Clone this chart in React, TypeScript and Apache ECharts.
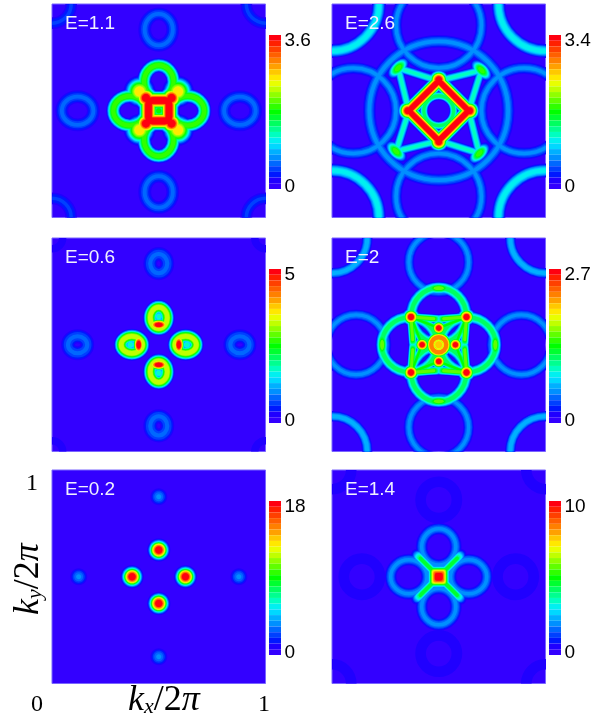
import React, { useEffect, useRef } from "react";
import * as echarts from "echarts";

// colour bar, bottom to top
const barColors = ["#3300ff","#2000ff","#0018ff","#0040ff","#0068ff","#0090ff","#00b0ff","#00d8ff","#00f0f0","#00ffc0","#00ff90","#00ff60","#00ff30","#00ff00","#30ff00","#60ff00","#90ff00","#c0ff00","#e8ff00","#ffe800","#ffc800","#ffa000","#ff8000","#ff6000","#ff4000","#ff2000","#ff0010"];

// rings: kx, ky, radius x, radius y, band width, peak
// blobs: kx, ky, radius x, radius y, angle, peak
// boxes: kx, ky, half side, corner, angle, band width (0 = solid), peak
// ridges: kx1, ky1, kx2, ky2, band width, peak
const ringsE11 = [[.5,.88,.066,.074,.06,.55],[0,1,.09,.09,.055,.45],[.5,.636,.069,.077,.068,1.95]];
const blobsE11 = [[.41,.59,.075,.075,0,2.6],[.44,.56,.06,.06,0,3.6],[.5,.5,.04,.04,0,1.75]];
const boxesE11 = [[.5,.5,.048,.02,0,.1,3.6]];
const ridgesE11: number[][] = [];

const ringsE26 = [[0,1,.22,.22,.065,1.1],[.5,.5,.325,.325,.06,.65],[.5,.9,.2,.2,.055,.65],[.5,.5,.07,.07,.042,1.5]];
const blobsE26 = [[.31,.7,.065,.036,45,1.85],[.5,.645,.05,.05,0,3.4]];
const boxesE26 = [[.5,.5,.099,.015,45,.078,3.3]];
const ridgesE26 = [[.49,.643,.31,.7,.045,1.2],[.357,.51,.31,.7,.045,1.2]];

const ringsE06 = [[.5,.88,.04,.045,.065,.83],[0,1,.05,.05,.035,.33],[.5,.626,.04,.05,.07,3.3]];
const blobsE06 = [[.5,.632,.03,.03,0,1.8],[.5,.594,.06,.032,0,5]];
const boxesE06: number[][] = [];
const ridgesE06: number[][] = [];

const ringsE20 = [[0,1,.165,.165,.05,.7],[.5,.887,.14,.14,.05,.55],[.5,.637,.128,.13,.06,1.15],[.5,.5,.035,.035,.06,2.3]];
const blobsE20 = [[.5,.5,.055,.055,0,2.0],[.37,.63,.045,.045,0,2.6],[.5,.578,.04,.04,0,2.6],[.5,.5,.02,.02,0,1.95],[.5,.765,.08,.03,0,1.5]];
const boxesE20 = [[.5,.5,.06,.01,45,0,1.9]];
const ridgesE20 = [[.37,.63,.5,.578,.03,1.4],[.37,.63,.422,.5,.03,1.4],[.37,.63,.5,.62,.045,1.5],[.37,.63,.38,.5,.045,1.5]];

const ringsE02: number[][] = [];
const blobsE02 = [[.5,.625,.055,.055,0,18],[.5,.875,.04,.04,0,3.6]];
const boxesE02: number[][] = [];
const ridgesE02: number[][] = [];

const ringsE14 = [[.5,.86,.085,.085,.05,.5],[0,1,.09,.09,.05,.5],[.5,.64,.08,.085,.055,2.0]];
const blobsE14: number[][] = [];
const boxesE14 = [[.5,.5,.06,.01,0,0,10]];
const ridgesE14 = [[.5,.5,.395,.605,.05,4.5]];

const energies = ["E=1.1","E=2.6","E=0.6","E=2","E=0.2","E=1.4"];
const scaleMax = [3.6,3.4,5,2.7,18,10];
const scaleMaxLabels = ["3.6","3.4","5","2.7","18","10"];
const ringSets = [ringsE11,ringsE26,ringsE06,ringsE20,ringsE02,ringsE14];
const blobSets = [blobsE11,blobsE26,blobsE06,blobsE20,blobsE02,blobsE14];
const boxSets = [boxesE11,boxesE26,boxesE06,boxesE20,boxesE02,boxesE14];
const ridgeSets = [ridgesE11,ridgesE26,ridgesE06,ridgesE20,ridgesE02,ridgesE14];

const SERIF = "'Liberation Serif','DejaVu Serif',serif";
const SANS = "'Liberation Sans',Arial,sans-serif";
const panelLeft = [52, 332];
const panelTop = [4, 238, 470];
const panelSize = 213.5;

// kind, a, b, c, d, angle, band, peak
type F = number[];
function turn(x: number, y: number, n: number) {
  let dx = x - .5, dy = y - .5;
  for (let i = 0; i < n; i++) { const t = dx; dx = -dy; dy = t; }
  return [.5 + dx, .5 + dy];
}
function fourfold(i: number): F[] {
  const out: F[] = [];
  for (let n = 0; n < 4; n++) {
    for (const r of ringSets[i]) {
      if (n > 0 && r[0] === .5 && r[1] === .5) continue;
      const [x, y] = turn(r[0], r[1], n);
      out.push([0, x, y, r[2], r[3], n * 90, r[4], r[5]]);
    }
    for (const r of blobSets[i]) {
      if (n > 0 && r[0] === .5 && r[1] === .5) continue;
      const [x, y] = turn(r[0], r[1], n);
      out.push([1, x, y, r[2], r[3], r[4] + n * 90, 0, r[5]]);
    }
    for (const r of boxSets[i]) {
      if (n > 0) continue;
      out.push([2, r[0], r[1], r[2], r[3], r[4], r[5], r[6]]);
    }
    for (const r of ridgeSets[i]) {
      const [x1, y1] = turn(r[0], r[1], n);
      const [x2, y2] = turn(r[2], r[3], n);
      out.push([3, x1, y1, x2, y2, 0, r[4], r[5]]);
    }
  }
  return out;
}
function layers(i: number) {
  const step = scaleMax[i] / barColors.length;
  const feats = fourfold(i);
  const rows: number[][] = [];
  for (let b = 1; b < barColors.length; b++) {
    const level = (b + .5) * step;
    for (const f of feats) {
      if (f[7] < b * step) continue;
      const low = 1.5 * step;
      let ratio = f[7] > level && f[7] > low ? Math.log(f[7] / level) / Math.log(f[7] / low) : 0;
      if (b === 1) ratio = 1;
      const spread = Math.max(.3, Math.pow(Math.min(1, ratio), .33));
      rows.push([f[0], f[1], f[2], f[3], f[4], f[5], f[6], spread, level]);
    }
  }
  return rows;
}
function renderLayer(_: any, api: any) {
  const kind = api.value(0);
  const p = api.coord([api.value(1), api.value(2)]);
  const unit = api.size([1, 1])[0];
  const c = api.value(3) * unit, d = api.value(4) * unit;
  const rot = (api.value(5) * Math.PI) / 180;
  const band = api.value(6) * unit;
  const spread = api.value(7);
  const color = api.visual("color");
  if (kind === 0) {
    return { type: "ellipse", x: p[0], y: p[1], rotation: rot, shape: { cx: 0, cy: 0, rx: c, ry: d }, style: { fill: "none", stroke: color, lineWidth: band * spread } };
  }
  if (kind === 1) {
    return { type: "ellipse", x: p[0], y: p[1], rotation: rot, shape: { cx: 0, cy: 0, rx: c * spread, ry: d * spread }, style: { fill: color } };
  }
  if (kind === 2) {
    if (band === 0) {
      const h = c * spread;
      return { type: "rect", x: p[0], y: p[1], rotation: rot, shape: { x: -h, y: -h, width: 2 * h, height: 2 * h, r: d }, style: { fill: color } };
    }
    return { type: "rect", x: p[0], y: p[1], rotation: rot, shape: { x: -c, y: -c, width: 2 * c, height: 2 * c, r: d }, style: { fill: "none", stroke: color, lineWidth: band * spread } };
  }
  const q = api.coord([api.value(3), api.value(4)]);
  const reach = .75 + .25 * spread;
  return { type: "line", shape: { x1: p[0], y1: p[1], x2: p[0] + (q[0] - p[0]) * reach, y2: p[1] + (q[1] - p[1]) * reach }, style: { stroke: color, lineWidth: band * spread, lineCap: "round" } };
}

function buildOption() {
  const grid: any[] = [], xAxis: any[] = [], yAxis: any[] = [], series: any[] = [], visualMap: any[] = [], graphic: any[] = [];
  energies.forEach((label, i) => {
    const left = panelLeft[i % 2], top = panelTop[Math.floor(i / 2)];
    grid.push({ left, top, width: panelSize, height: panelSize, show: true, backgroundColor: barColors[0], borderColor: "#7a66ff", borderWidth: 1 });
    xAxis.push({ gridIndex: i, type: "value", min: 0, max: 1, show: false });
    yAxis.push({ gridIndex: i, type: "value", min: 0, max: 1, show: false });
    series.push({ type: "custom", xAxisIndex: i, yAxisIndex: i, clip: true, silent: true, z: 2, renderItem: renderLayer, encode: { x: 1, y: 2 }, data: layers(i) });
    const step = scaleMax[i] / barColors.length;
    visualMap.push({
      type: "piecewise", seriesIndex: i, dimension: 8, left: left + panelSize + 3.5, top: top + 31, orient: "vertical",
      itemWidth: 12, itemHeight: 154 / barColors.length, itemGap: 0, itemSymbol: "rect", showLabel: false, selectedMode: false, padding: 0,
      pieces: barColors.map((color, b) => ({ min: b * step, max: (b + 1) * step, color })).reverse(),
    });
    graphic.push(
      { type: "text", z: 100, left: left + 13, top: top + 9, style: { text: label, fill: "#f0f0ff", font: `19px ${SANS}` } },
      { type: "text", z: 100, left: left + panelSize + 19, top: top + 26, style: { text: scaleMaxLabels[i], fill: "#000", font: `19px ${SANS}` } },
      { type: "text", z: 100, left: left + panelSize + 19, top: top + 172, style: { text: "0", fill: "#000", font: `19px ${SANS}` } },
    );
  });
  const kLabel = (sub: string) => ({
    text: `{k|k}{s|${sub}}{r|/2}{k|π}`,
    fill: "#000",
    rich: {
      k: { fontFamily: SERIF, fontStyle: "italic", fontSize: 36, fill: "#000" },
      s: { fontFamily: SERIF, fontStyle: "italic", fontSize: 22, fill: "#000", padding: [14, 0, 0, 0] },
      r: { fontFamily: SERIF, fontSize: 36, fill: "#000" },
    },
  });
  graphic.push(
    { type: "text", z: 100, left: 26, top: 470, style: { text: "1", fill: "#000", font: `24px ${SERIF}` } },
    { type: "text", z: 100, left: 31, top: 691, style: { text: "0", fill: "#000", font: `24px ${SERIF}` } },
    { type: "text", z: 100, left: 258, top: 691, style: { text: "1", fill: "#000", font: `24px ${SERIF}` } },
    { type: "text", z: 100, left: 128, top: 680, style: kLabel("x") },
    { type: "text", z: 100, x: 8, y: 615, rotation: Math.PI / 2 * 1, style: { ...kLabel("y") } },
  );
  return { animation: false, backgroundColor: "#fff", grid, xAxis, yAxis, series, visualMap, graphic };
}

export default function App() {
  const ref = useRef<HTMLDivElement>(null);
  useEffect(() => {
    const chart = echarts.init(ref.current!, undefined, { renderer: "svg" });
    chart.setOption(buildOption() as any);
    return () => chart.dispose();
  }, []);
  return <div ref={ref} style={{ position: "fixed", left: 0, top: 0, width: 606, height: 725, filter: "blur(0.6px)" }} />;
}
